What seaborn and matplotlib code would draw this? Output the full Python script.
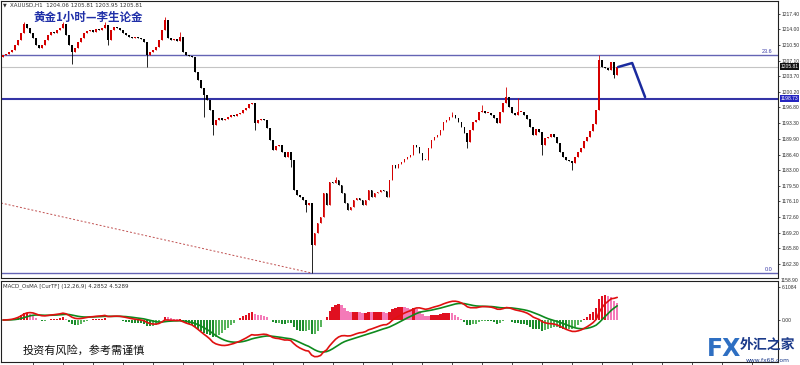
import numpy as np
import pandas as pd
import matplotlib
matplotlib.use("Agg")
import matplotlib.pyplot as plt
import matplotlib.transforms as mtransforms
import seaborn as sns

# ---------------- data ----------------
closes = [
    1208.37, 1208.59, 1209.03, 1209.47, 1210.57, 1211.67, 1213.22, 1215.20, 1214.32, 1213.22,
    1212.12, 1210.57, 1209.91, 1210.57, 1211.67, 1212.78, 1213.44, 1213.22, 1213.88, 1214.32,
    1215.20, 1212.78, 1210.57, 1209.03, 1209.91, 1211.23, 1212.12, 1213.22, 1213.66, 1213.88,
    1213.44, 1214.10, 1213.88, 1214.32, 1214.98, 1211.67, 1213.88, 1214.54, 1214.32, 1213.88,
    1213.22, 1212.78, 1212.34,
    1212.12, 1212.34, 1212.12, 1211.89, 1211.23, 1208.37, 1209.03, 1209.47, 1210.13, 1211.67,
    1213.88, 1216.08, 1212.12, 1211.67, 1211.89, 1211.45, 1212.34, 1209.03, 1208.37, 1208.15,
    1207.93, 1204.62, 1202.86, 1201.09, 1199.55, 1198.45, 1196.25, 1192.94, 1194.04, 1194.48,
    1194.04, 1194.26, 1194.70, 1195.14, 1194.92, 1195.36, 1195.58, 1196.25, 1196.69, 1197.57,
    1197.79,
    1193.38, 1194.04, 1194.26, 1194.04, 1192.28, 1189.63, 1187.43, 1188.31, 1188.53, 1186.99,
    1185.89, 1186.99, 1185.23, 1178.61, 1177.51, 1177.07, 1176.41, 1175.31, 1175.75, 1166.49,
    1169.14, 1171.34, 1172.66, 1177.95, 1175.31, 1180.38, 1180.16, 1180.82, 1179.72, 1177.95,
    1175.75, 1174.21, 1174.87, 1176.41, 1176.85, 1176.41, 1175.31, 1176.41,
    1178.61, 1177.07, 1177.95, 1178.17, 1178.61, 1178.39, 1177.07, 1180.82, 1184.12, 1183.46,
    1184.34, 1184.79, 1185.45, 1185.89, 1186.33, 1188.53, 1188.09, 1186.77, 1185.23, 1185.23,
    1187.87, 1189.63, 1190.30, 1190.74, 1191.84, 1193.60, 1194.04, 1194.70, 1195.14, 1194.48,
    1193.60, 1192.50, 1191.18, 1189.19, 1191.84, 1193.60, 1194.04, 1195.81, 1196.03, 1195.58,
    1195.58,
    1195.14, 1194.48, 1193.38, 1195.81, 1197.79, 1199.11, 1196.91, 1195.58, 1195.14, 1195.81,
    1195.81, 1195.14, 1194.26, 1192.50, 1190.74, 1192.06, 1191.40, 1188.53, 1190.07, 1190.30,
    1190.96, 1190.30, 1188.97, 1186.99, 1185.89, 1185.23, 1185.01, 1184.56, 1185.89, 1186.99,
    1187.87, 1189.41, 1190.30, 1191.62, 1193.16, 1196.25, 1207.27, 1205.72, 1205.50, 1205.06,
    1206.83, 1204.06, 1205.81,
]
first_open = 1207.90

high_wick_idx = [7, 20, 34, 54, 59, 111, 150, 160, 168, 172, 199]
high_wick_val = [1215.64, 1215.64, 1215.64, 1216.74, 1213.44, 1181.50, 1195.81, 1197.35,
                 1201.32, 1198.89, 1208.37]
low_wick_idx = [23, 35, 48, 67, 70, 84, 96, 101, 103, 155, 180, 190, 204, 205]
low_wick_val = [1206.38, 1210.57, 1205.72, 1194.70, 1190.74, 1191.84, 1183.68, 1173.77,
                1160.32, 1187.87, 1186.33, 1183.02, 1203.30, 1203.95]

price_ticks = [1217.40, 1214.00, 1210.50, 1207.10, 1203.70, 1200.20, 1196.80, 1193.30,
               1189.90, 1186.40, 1183.00, 1179.50, 1176.10, 1172.60, 1169.20, 1165.80, 1162.30]
bottom_tick_label = "1158.90"
fib_levels = [1208.36, 1160.32]
fib_labels = ["23.6", "0.0"]
support_level = 1198.73
bid_price = 1205.81
forecast_idx = [205.3, 210.0, 214.3]
forecast_price = [1205.72, 1206.60, 1199.11]
trend_idx = [-0.67, 103.0]
trend_price = [1175.75, 1160.32]
macd_ticks = [6.1084, 0.0]
macd_tick_labels = ["6.1084", "0.00"]
osma_scale = 2.0   # OsMA histogram drawn at double scale, as in the indicator
header_text = "XAUUSD,H1  1204.06 1205.81 1203.95 1205.81"
macd_header = "MACD_OsMA [CurTF] (12,26,9) 4.2852 4.5289"
title_text = "黄金1小时—李生论金"
disclaimer = "投资有风险，参考需谨慎"

# ---------------- build frame ----------------
n = len(closes)
idx = np.arange(n)
opens = [first_open] + closes[:-1]
df = pd.DataFrame({"i": idx, "open": opens, "close": closes})
df["high"] = df[["open", "close"]].max(axis=1)
df["low"] = df[["open", "close"]].min(axis=1)
df.loc[high_wick_idx, "high"] = np.maximum(df.loc[high_wick_idx, "high"], high_wick_val)
df.loc[low_wick_idx, "low"] = np.minimum(df.loc[low_wick_idx, "low"], low_wick_val)
df["up"] = df["close"] >= df["open"]

cs = pd.Series(closes)
ema12 = cs.ewm(span=12, adjust=False).mean()
ema26 = cs.ewm(span=26, adjust=False).mean()
macd = ema12 - ema26
signal = macd.ewm(span=9, adjust=False).mean()
osma = (macd - signal) * osma_scale

# ---------------- style ----------------
sns.set_style("white")
plt.rcParams["font.family"] = ["DejaVu Sans"]
cjk = ["Noto Sans CJK SC", "DejaVu Sans"]
tickfont = "Liberation Sans"

W, H = 800, 365
fig = plt.figure(figsize=(8, 3.65), dpi=100)
fx = lambda px: px / W
fy = lambda py: 1 - py / H

ax1 = fig.add_axes([fx(1), fy(278), fx(777), 277 / H])
ax2 = fig.add_axes([fx(1), fy(362), fx(777), 81 / H])

xlim = (-0.67, 258.67)
for ax in (ax1, ax2):
    ax.set_xlim(*xlim)
    for s in ax.spines.values():
        s.set_color("#202020")
        s.set_linewidth(0.8)

# ---- price panel ----
ax1.set_ylim(1159.22, 1220.27)
up_c, dn_c = "#d40000", "#000000"
colors = np.where(df["up"], up_c, dn_c)
ax1.vlines(df["i"], df["low"], df["high"], colors=colors, lw=0.6, zorder=3)
body_h = (df["close"] - df["open"]).abs().clip(lower=0.12)
ax1.bar(df["i"], body_h, bottom=df[["open", "close"]].min(axis=1), width=0.6,
        color=colors, linewidth=0, zorder=4)

for lvl, lab in zip(fib_levels, fib_labels):
    ax1.axhline(lvl, color="#6464b4", lw=1.0, zorder=2)
    ax1.text(256.8, lvl + 0.25, lab, color="#3a3aa8", fontsize=4.0, ha="right", va="bottom",
             family=tickfont)
ax1.axhline(support_level, color="#3434a6", lw=1.5, zorder=2)
ax1.axhline(bid_price, color="#c4c4c4", lw=0.8, zorder=1)

sns.lineplot(x=trend_idx, y=trend_price, ax=ax1, color="#c05050", lw=0.7,
             linestyle=(0, (2, 2)), legend=False, zorder=2)
sns.lineplot(x=forecast_idx, y=forecast_price, ax=ax1, color="#1a2a9e", lw=1.8,
             legend=False, zorder=5, sort=False)

ax1.yaxis.tick_right()
ax1.set_yticks(price_ticks)
ax1.set_yticklabels([f"{v:.2f}" for v in price_ticks], family=tickfont)
ax1.tick_params(axis="y", labelsize=3.6, length=1.5, width=0.6, pad=1.0, colors="#303030",
                direction="out", right=True)
ax1.set_xticks([])
ax1.set_xlabel("")
ax1.set_ylabel("")

trans = mtransforms.blended_transform_factory(ax1.transAxes, ax1.transData)
ax1.text(1.003, bid_price, f"{bid_price:.2f}", transform=trans, fontsize=3.6, color="white",
         va="center", ha="left", family=tickfont,
         bbox=dict(boxstyle="square,pad=0.15", fc="#101010", ec="none"), zorder=10,
         clip_on=False)
ax1.text(1.003, support_level, f"{support_level:.2f}", transform=trans, fontsize=3.6,
         color="white", va="center", ha="left", family=tickfont,
         bbox=dict(boxstyle="square,pad=0.15", fc="#2424c0", ec="none"), zorder=10,
         clip_on=False)

# ---- MACD panel ----
ax2.set_ylim(-7.76, 7.21)
hist_colors = []
for k in range(n):
    v = osma.iloc[k]
    p = osma.iloc[k - 1] if k > 0 else 0.0
    if v >= 0:
        hist_colors.append("#e01020" if v >= p else "#f47ab8")
    else:
        hist_colors.append("#1c8c2c" if v <= p else "#58b45c")
ax2.bar(idx, osma, width=0.72, color=hist_colors, linewidth=0, zorder=2)
sns.lineplot(x=idx, y=signal, ax=ax2, color="#0e8a1e", lw=1.2, legend=False, zorder=3)
sns.lineplot(x=idx, y=macd, ax=ax2, color="#e01010", lw=1.2, legend=False, zorder=4)
ax2.yaxis.tick_right()
ax2.set_yticks(macd_ticks)
ax2.set_yticklabels(macd_tick_labels, family=tickfont)
ax2.tick_params(axis="y", labelsize=3.6, length=1.5, width=0.6, pad=1.0, colors="#303030",
                direction="out", right=True)
ax2.set_xticks(np.arange(10, 259, 10))
ax2.set_xticklabels([])
ax2.tick_params(axis="x", length=2.5, width=0.6, direction="out", colors="#303030", bottom=True)
ax2.set_xlabel("")
ax2.set_ylabel("")

# ---- texts ----
fig.text(fx(780.5), fy(280.5), bottom_tick_label, fontsize=3.6, color="#303030", va="center",
         family=tickfont)
fig.text(fx(3), fy(5), "▼", fontsize=3.5, color="#303030", va="center")
fig.text(fx(10), fy(5), header_text, fontsize=4.0, color="#303030", va="center")
fig.text(fx(33), fy(17), title_text, fontsize=8.3, fontweight="bold", color="#1f2fa8",
         va="center", family=cjk)
fig.text(fx(3), fy(286), macd_header, fontsize=4.0, color="#303030", va="center")
fig.text(fx(23), fy(350), disclaimer, fontsize=8, color="#111111", va="center", family=cjk)

# watermark
fig.text(fx(707), fy(349), "FX", fontsize=17, fontweight="bold", color="#2e6fc2",
         va="center", ha="left", zorder=20)
fig.text(fx(740), fy(345), "外汇之家", fontsize=10, fontweight="bold", color="#1b3a8a",
         va="center", ha="left", family=cjk, zorder=20)
fig.text(fx(746), fy(360), "www.fx68.com", fontsize=4.3, color="#1b3a8a",
         va="center", ha="left", zorder=20)

fig.savefig("out.png", dpi=100, facecolor="white")
